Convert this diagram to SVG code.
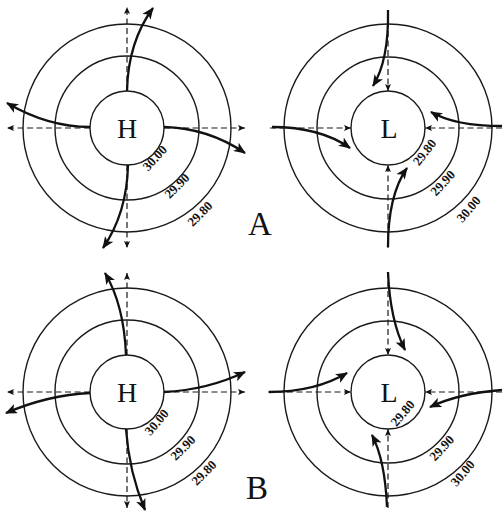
<svg xmlns="http://www.w3.org/2000/svg" width="502" height="511" viewBox="0 0 502 511">
<defs>
<style>
.ring{fill:none;stroke:#1a1a1a;stroke-width:1.4}
.dash{fill:none;stroke:#1a1a1a;stroke-width:1.2;stroke-dasharray:6,3.5}
.wind{fill:none;stroke:#111;stroke-width:2.3}
.big{font-family:"Liberation Serif",serif;font-size:28px;fill:#111;text-anchor:middle}
.lab{font-family:"Liberation Serif",serif;font-size:13px;font-weight:bold;fill:#111;text-anchor:middle}
.pan{font-family:"Liberation Serif",serif;font-size:33px;fill:#111;text-anchor:middle}
</style>
<marker id="ah" viewBox="0 0 12 10" refX="11" refY="5" markerWidth="12" markerHeight="10" markerUnits="userSpaceOnUse" orient="auto">
<path d="M0,0 L12,5 L0,10 L3,5 z" fill="#111"/>
</marker>
<marker id="sh" viewBox="0 0 7 6" refX="7" refY="3" markerWidth="7" markerHeight="6" markerUnits="userSpaceOnUse" orient="auto">
<path d="M0,0 L7,3 L0,6 L1.5,3 z" fill="#111"/>
</marker>
</defs>
<rect width="502" height="511" fill="#fff"/>

<g id="highA">
<circle class="ring" cx="127" cy="128" r="37"/>
<circle class="ring" cx="127" cy="128" r="72"/>
<circle class="ring" cx="127" cy="128" r="104"/>
<text class="big" x="127" y="138">H</text>
<text class="lab" transform="translate(158,161) rotate(-48)">30.00</text>
<text class="lab" transform="translate(180,189) rotate(-45)">29.90</text>
<text class="lab" transform="translate(203,217) rotate(-45)">29.80</text>
</g>
<g id="lowA">
<circle class="ring" cx="388" cy="128" r="37"/>
<circle class="ring" cx="388" cy="128" r="71"/>
<circle class="ring" cx="388" cy="128" r="104"/>
<text class="big" x="389" y="138">L</text>
<text class="lab" transform="translate(428,155) rotate(-52)">29.80</text>
<text class="lab" transform="translate(446,186) rotate(-47)">29.90</text>
<text class="lab" transform="translate(472,212) rotate(-50)">30.00</text>
</g>
<g id="highB">
<circle class="ring" cx="127" cy="392" r="37"/>
<circle class="ring" cx="127" cy="392" r="72"/>
<circle class="ring" cx="127" cy="392" r="104"/>
<text class="big" x="127" y="402">H</text>
<text class="lab" transform="translate(160,425) rotate(-50)">30.00</text>
<text class="lab" transform="translate(186,451) rotate(-45)">29.90</text>
<text class="lab" transform="translate(207,476) rotate(-45)">29.80</text>
</g>
<g id="lowB">
<circle class="ring" cx="388" cy="392" r="37"/>
<circle class="ring" cx="388" cy="392" r="71"/>
<circle class="ring" cx="388" cy="392" r="104"/>
<text class="big" x="389" y="402">L</text>
<text class="lab" transform="translate(406,416) rotate(-50)">29.80</text>
<text class="lab" transform="translate(445,451) rotate(-47)">29.90</text>
<text class="lab" transform="translate(466,476) rotate(-50)">30.00</text>
</g>
<g id="labelA"><text class="pan" x="260" y="235">A</text></g>
<g id="labelB"><text class="pan" x="257" y="499">B</text></g>

<g id="connectors">
<path class="dash" d="M90,128 L7,128" marker-end="url(#sh)"/>
<path class="dash" d="M164,128 L245,128" marker-end="url(#sh)"/>
<path class="dash" d="M127,91 L127,7" marker-end="url(#sh)"/>
<path class="dash" d="M127,165 L127,248" marker-end="url(#sh)"/>
<path class="wind" d="M127,91 Q128,42 153,8" marker-end="url(#ah)"/>
<path class="wind" d="M164,127 Q208,128 245,153" marker-end="url(#ah)"/>
<path class="wind" d="M128,165 Q127,213 103,248" marker-end="url(#ah)"/>
<path class="wind" d="M90,127 Q48,127 7,103" marker-end="url(#ah)"/>
<path class="dash" d="M270,128 L351,128" marker-end="url(#sh)"/>
<path class="dash" d="M502,128 L425,128" marker-end="url(#sh)"/>
<path class="dash" d="M388,12 L388,91" marker-end="url(#sh)"/>
<path class="dash" d="M388,248 L388,165" marker-end="url(#sh)"/>
<path class="wind" d="M388,10 Q389,60 373,86" marker-end="url(#ah)"/>
<path class="wind" d="M502,126 Q455,126 431,112" marker-end="url(#ah)"/>
<path class="wind" d="M388,247 Q388,195 407,168" marker-end="url(#ah)"/>
<path class="wind" d="M272,127 Q320,127 350,148" marker-end="url(#ah)"/>
<path class="dash" d="M90,392 L7,392" marker-end="url(#sh)"/>
<path class="dash" d="M164,392 L245,392" marker-end="url(#sh)"/>
<path class="dash" d="M127,355 L127,273" marker-end="url(#sh)"/>
<path class="dash" d="M127,429 L127,508" marker-end="url(#sh)"/>
<path class="wind" d="M126,355 Q124,305 105,273" marker-end="url(#ah)"/>
<path class="wind" d="M164,392 Q207,390 245,372" marker-end="url(#ah)"/>
<path class="wind" d="M126,429 Q129,472 145,510" marker-end="url(#ah)"/>
<path class="wind" d="M90,393 Q48,395 6,413" marker-end="url(#ah)"/>
<path class="dash" d="M268,392 L351,392" marker-end="url(#sh)"/>
<path class="dash" d="M502,392 L425,392" marker-end="url(#sh)"/>
<path class="dash" d="M388,272 L388,355" marker-end="url(#sh)"/>
<path class="dash" d="M388,508 L388,429" marker-end="url(#sh)"/>
<path class="wind" d="M388,272 Q390,320 405,350" marker-end="url(#ah)"/>
<path class="wind" d="M502,390 Q460,393 430,407" marker-end="url(#ah)"/>
<path class="wind" d="M387,507 Q385,460 372,435" marker-end="url(#ah)"/>
<path class="wind" d="M269,392 Q315,392 347,373" marker-end="url(#ah)"/>
</g>
</svg>
